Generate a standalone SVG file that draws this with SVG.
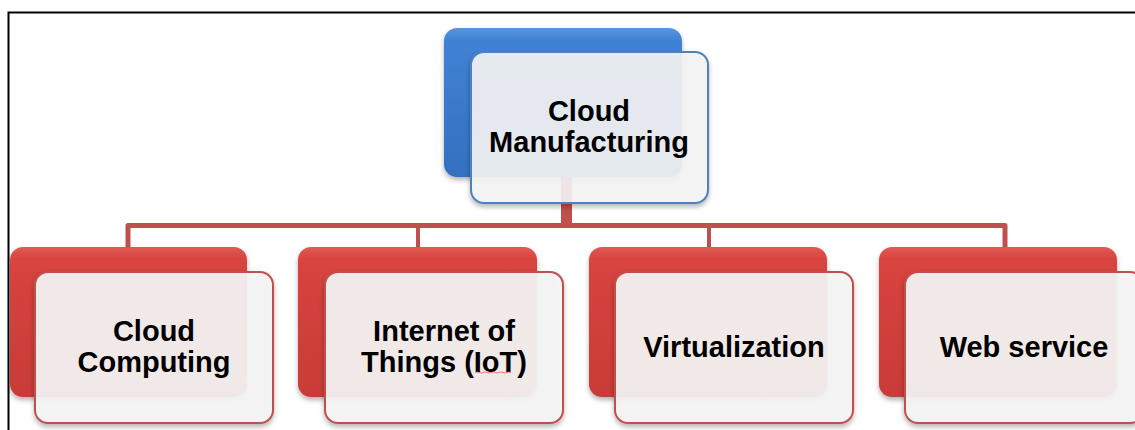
<svg xmlns="http://www.w3.org/2000/svg" width="1135" height="430" viewBox="0 0 1135 430">
<defs>
<linearGradient id="gRed" x1="0" y1="0" x2="0" y2="1">
<stop offset="0" stop-color="#e05a55"/>
<stop offset="0.08" stop-color="#d8443f"/>
<stop offset="1" stop-color="#c93b37"/>
</linearGradient>
<linearGradient id="gBlue" x1="0" y1="0" x2="0" y2="1">
<stop offset="0" stop-color="#5a96e0"/>
<stop offset="0.08" stop-color="#4182d4"/>
<stop offset="1" stop-color="#3370c0"/>
</linearGradient>
<filter id="sh" x="-10%" y="-10%" width="120%" height="130%">
<feDropShadow dx="0" dy="3" stdDeviation="2.5" flood-color="#000" flood-opacity="0.3"/>
</filter>
</defs>
<style>
.back-r{fill:url(#gRed);}
.back-b{fill:url(#gBlue);}
.front-r{fill:#f5f5f5;fill-opacity:0.92;stroke:#c0504d;stroke-width:2;}
.front-b{fill:#f5f5f5;fill-opacity:0.9;stroke:#4f81bd;stroke-width:2;}
.lbl{font-family:"Liberation Sans",Arial,sans-serif;font-weight:bold;font-size:29px;fill:#000;text-anchor:middle;}
.con{fill:none;stroke:#c0504d;stroke-width:5;stroke-linejoin:round;}
.drop{fill:none;stroke:#c0504d;stroke-width:4;}
</style>
<rect x="0" y="0" width="1135" height="430" fill="#fff"/>
<path d="M8.5 430 V12.5 H1135" fill="none" stroke="#000" stroke-width="2"/>
<g id="connectors">
<rect x="561" y="175" width="11" height="50" fill="#c0504d"/>
<path class="con" d="M128 247 V225.5 H1005 V247"/>
<line class="drop" x1="418" y1="225" x2="418" y2="248"/>
<line class="drop" x1="709" y1="225" x2="709" y2="248"/>
</g>
<g id="cloud-manufacturing">
<rect class="back-b" x="444" y="28" width="238" height="149" rx="13" filter="url(#sh)"/>
<rect class="front-b" x="471" y="52" width="237" height="151" rx="13" filter="url(#sh)"/>
<text class="lbl" x="589" y="121">Cloud</text>
<text class="lbl" x="589" y="152">Manufacturing</text>
</g>
<g id="cloud-computing">
<rect class="back-r" x="10" y="247" width="237" height="150" rx="13" filter="url(#sh)"/>
<rect class="front-r" x="35" y="272" width="238" height="151" rx="13" filter="url(#sh)"/>
<text class="lbl" x="154" y="341">Cloud</text>
<text class="lbl" x="154" y="372">Computing</text>
</g>
<g id="iot">
<rect class="back-r" x="298" y="247" width="239" height="150" rx="13" filter="url(#sh)"/>
<rect class="front-r" x="325" y="272" width="238" height="151" rx="13" filter="url(#sh)"/>
<text class="lbl" x="444" y="341">Internet of</text>
<text class="lbl" x="444" y="372">Things (IoT)</text>
<path d="M475 372.5 q2 -1 4 0 t4 0 t4 0 t4 0 t4 0 t4 0 t4 0 t4 0 t4 0" fill="none" stroke="#e06060" stroke-width="0.8"/>
</g>
<g id="virtualization">
<rect class="back-r" x="589" y="247" width="238" height="150" rx="13" filter="url(#sh)"/>
<rect class="front-r" x="615" y="272" width="238" height="151" rx="13" filter="url(#sh)"/>
<text class="lbl" x="734" y="357">Virtualization</text>
</g>
<g id="web-service">
<rect class="back-r" x="879" y="247" width="238" height="150" rx="13" filter="url(#sh)"/>
<rect class="front-r" x="905" y="272" width="238" height="151" rx="13" filter="url(#sh)"/>
<text class="lbl" x="1024" y="357">Web service</text>
</g>
</svg>
